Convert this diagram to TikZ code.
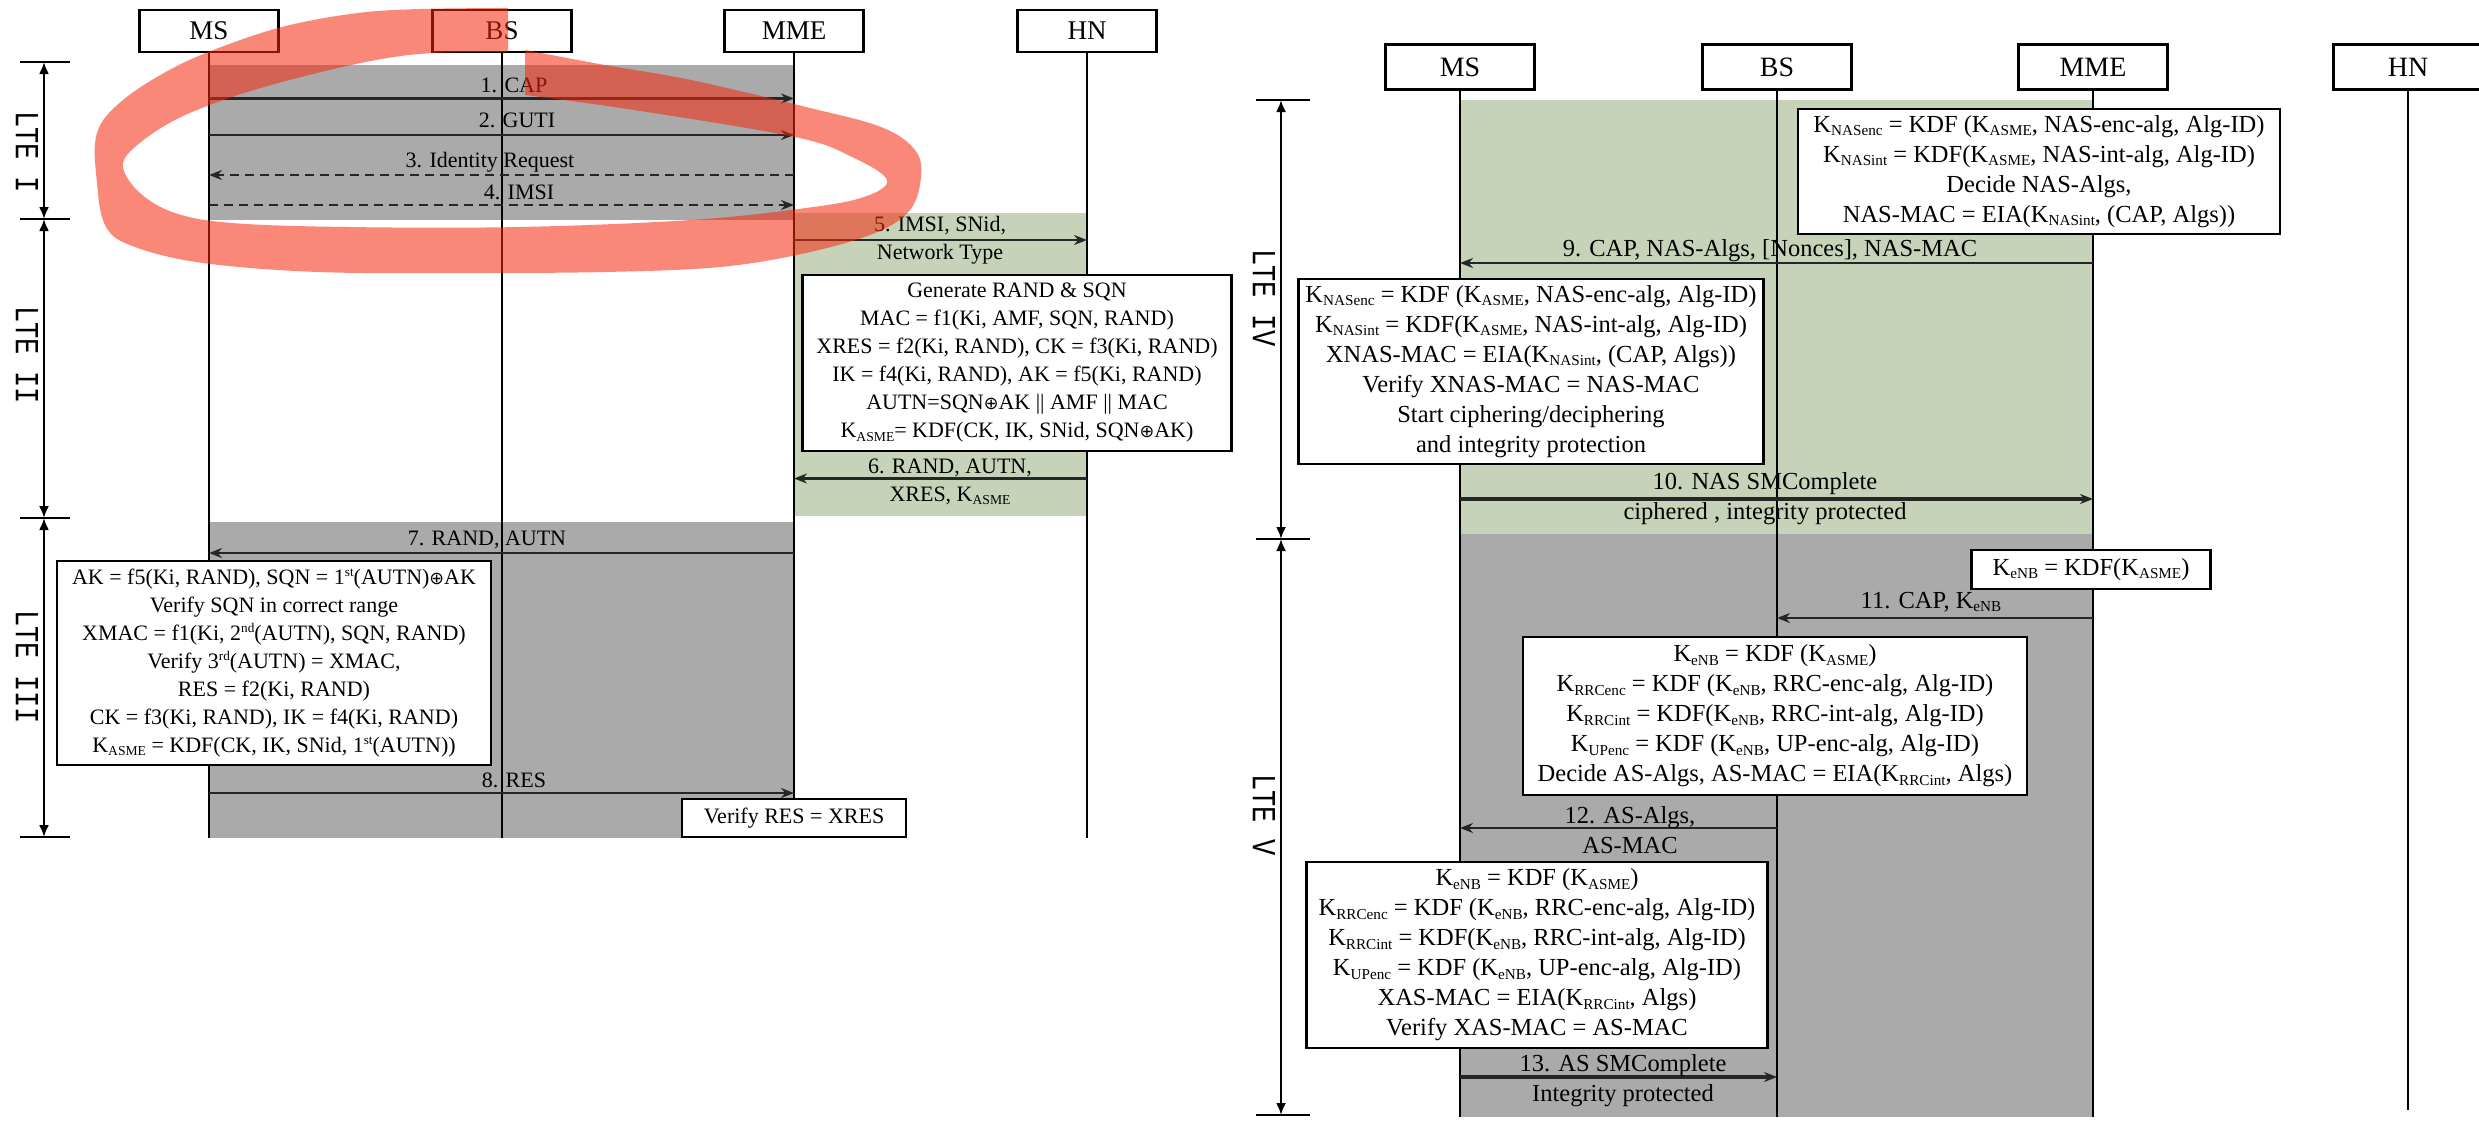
\documentclass[tikz,border=0pt]{standalone}
\usepackage{fontspec}
\setmainfont{Liberation Serif}
\newfontfamily\ltefont{Liberation Mono}
\newfontfamily\symf{DejaVu Sans}
\usetikzlibrary{arrows.meta}
\definecolor{grayreg}{HTML}{AAAAAA}
\definecolor{greenreg}{HTML}{C6D3B9}
\definecolor{redmark}{RGB}{245,40,12}
\newcommand\sbs[1]{\raisebox{-0.3ex}{\scalebox{0.62}{#1}}}
\newcommand\sps[1]{\raisebox{0.85ex}{\scalebox{0.6}{#1}}}
\newcommand\xor{{\symf\scalebox{0.8}{⊕}}}
\tikzset{
  part/.style={draw, line width=2.5pt, fill=white, minimum width=139pt, minimum height=42pt, inner sep=0pt, font=\fontsize{27}{27}\selectfont},
  partR/.style={part, minimum width=149pt, minimum height=45pt, font=\fontsize{28}{28}\selectfont},
  life/.style={line width=1.8pt},
  msg/.style={line width=2.6pt, draw=black!85, -{Stealth[length=13pt,width=10pt]}},
  dmsg/.style={msg, dash pattern=on 9pt off 6pt},
  lbl/.style={font=\fontsize{22}{28}\selectfont, inner sep=0pt, align=center},
  lblR/.style={font=\fontsize{24.5}{30}\selectfont, inner sep=0pt, align=center},
  bx/.style={draw, line width=2.5pt, fill=white, inner sep=0pt, align=center, font=\fontsize{22}{28}\selectfont},
  bxR/.style={bx, font=\fontsize{24.5}{30}\selectfont},
  lte/.style={font=\ltefont\fontsize{27}{27}\selectfont, rotate=-90, yscale=1.25, inner sep=0pt},
  brk/.style={line width=2.2pt, {Latex[length=12pt,width=10pt]}-{Latex[length=12pt,width=10pt]}},
  tck/.style={line width=2.8pt}
}
\begin{document}
\begin{tikzpicture}[x=1pt,y=-1pt]
\useasboundingbox (0,0) rectangle (2479,1120);
\fill[white] (0,0) rectangle (2479,1120);
% ---------- regions
\fill[grayreg] (209,65) rectangle (793,220);
\fill[greenreg] (793,213) rectangle (1087,516);
\fill[grayreg] (209,522) rectangle (793,838);
\fill[greenreg] (1460,100) rectangle (2092,534);
\fill[grayreg] (1460,534) rectangle (2092,1117);
% ---------- participants left
\node[part] (msA) at (209,31) {MS};
\node[part] (bsA) at (502,31) {BS};
\node[part] (mmeA) at (794,31) {MME};
\node[part] (hnA) at (1087,31) {HN};
\foreach \p in {msA,bsA,mmeA,hnA} \draw[life] (\p.south) -- (\p |- 0,838);
% ---------- participants right
\node[partR] (msB) at (1460,67) {MS};
\node[partR] (bsB) at (1777,67) {BS};
\node[partR] (mmeB) at (2093,67) {MME};
\node[partR] (hnB) at (2408,67) {HN};
\foreach \p in {msB,bsB,mmeB} \draw[life] (\p.south) -- (\p |- 0,1117);
\draw[life] (hnB.south) -- (hnB |- 0,1110);
% ---------- LTE brackets left
\coordinate (t0) at (44,62); \coordinate (t1) at (44,219);
\coordinate (t2) at (44,518); \coordinate (t3) at (44,837);
\foreach \t in {t0,t1,t2,t3} \draw[tck] ([xshift=-24pt]\t) -- ([xshift=26pt]\t);
\draw[brk] (t0) -- (t1);
\draw[brk] (t1) -- (t2);
\draw[brk] (t2) -- (t3);
\node[lte] (lteI) at (27,152) {LTE I};
\node[lte] (lteII) at (27,355) {LTE II};
\node[lte] (lteIII) at (27,667) {LTE III};
% ---------- LTE brackets right
\coordinate (u0) at (1281,100); \coordinate (u1) at (1281,539); \coordinate (u2) at (1281,1115);
\foreach \t in {u0,u1,u2} \draw[tck] ([xshift=-25pt]\t) -- ([xshift=29pt]\t);
\draw[brk] (u0) -- (u1);
\draw[brk] (u1) -- (u2);
\node[lte] (lteIV) at (1264,298) {LTE IV};
\node[lte] (lteV) at (1264,815) {LTE V};
% ---------- left messages
\draw[msg] (msA |- 0,98.5) -- (mmeA |- 0,98.5);
\node[lbl] (l1) at (514,85) {1. CAP};
\draw[msg] (msA |- 0,135) -- (mmeA |- 0,135);
\node[lbl] (l2) at (517,120) {2. GUTI};
\draw[dmsg] (mmeA |- 0,175) -- (msA |- 0,175);
\node[lbl] (l3) at (490,162) {3. Identity Request};
\draw[dmsg] (msA |- 0,205) -- (mmeA |- 0,205);
\node[lbl] (l4) at (519,192) {4. IMSI};
\draw[msg] (mmeA |- 0,240) -- (hnA |- 0,240);
\node[lbl] (l5) at (940,240) {5. IMSI, SNid,\\Network Type};
\node[bx, minimum width=429pt, minimum height=176pt] (genbox) at (1017,363)
 {Generate RAND \& SQN\\MAC = f1(Ki, AMF, SQN, RAND)\\XRES = f2(Ki, RAND), CK = f3(Ki, RAND)\\IK = f4(Ki, RAND), AK = f5(Ki, RAND)\\AUTN=SQN\xor AK || AMF || MAC\\K\sbs{ASME}= KDF(CK, IK, SNid, SQN\xor AK)};
\draw[msg] (hnA |- 0,478.5) -- (mmeA |- 0,478.5);
\node[lbl] (l6) at (950,482) {6. RAND, AUTN,\\XRES, K\sbs{ASME}};
\draw[msg] (mmeA |- 0,553) -- (msA |- 0,553);
\node[lbl] (l7) at (487,540) {7. RAND, AUTN};
\node[bx, minimum width=434pt, minimum height=204pt] (msbox) at (274,663)
 {AK = f5(Ki, RAND), SQN = 1\sps{st}(AUTN)\xor AK\\Verify SQN in correct range\\XMAC = f1(Ki, 2\sps{nd}(AUTN), SQN, RAND)\\Verify 3\sps{rd}(AUTN) = XMAC,\\RES = f2(Ki, RAND)\\CK = f3(Ki, RAND), IK = f4(Ki, RAND)\\K\sbs{ASME} = KDF(CK, IK, SNid, 1\sps{st}(AUTN))};
\draw[msg] (msA |- 0,793) -- (mmeA |- 0,793);
\node[lbl] (l8) at (514,780) {8. RES};
\node[bx, minimum width=224pt, minimum height=38pt] (vres) at (794,818) {Verify RES = XRES};
% ---------- right messages
\node[bxR, minimum width=482pt, minimum height=125pt] (mmebox1) at (2039,171.5)
 {K\sbs{NASenc} = KDF (K\sbs{ASME}, NAS-enc-alg, Alg-ID)\\K\sbs{NASint} = KDF(K\sbs{ASME}, NAS-int-alg, Alg-ID)\\Decide NAS-Algs,\\NAS-MAC = EIA(K\sbs{NASint}, (CAP, Algs))};
\draw[msg] (mmeB |- 0,263) -- (msB |- 0,263);
\node[lblR] (l9) at (1770,251) {9. CAP, NAS-Algs, [Nonces], NAS-MAC};
\node[bxR, minimum width=465pt, minimum height=185pt] (msbox1) at (1531,371.5)
 {K\sbs{NASenc} = KDF (K\sbs{ASME}, NAS-enc-alg, Alg-ID)\\K\sbs{NASint} = KDF(K\sbs{ASME}, NAS-int-alg, Alg-ID)\\XNAS-MAC = EIA(K\sbs{NASint}, (CAP, Algs))\\Verify XNAS-MAC = NAS-MAC\\Start ciphering/deciphering\\and integrity protection};
\draw[msg, line width=3.2pt] (msB |- 0,499) -- (mmeB |- 0,499);
\node[lblR] (l10) at (1765,499) {10. NAS SMComplete\\ciphered , integrity protected};
\node[bxR, minimum width=239pt, minimum height=39pt] (kenb) at (2091,569.5) {K\sbs{eNB} = KDF(K\sbs{ASME})};
\draw[msg] (mmeB |- 0,618) -- (bsB |- 0,618);
\node[lblR] (l11) at (1931,602) {11. CAP, K\sbs{eNB}};
\node[bxR, minimum width=504pt, minimum height=158pt] (bsbox) at (1775,716)
 {K\sbs{eNB} = KDF (K\sbs{ASME})\\K\sbs{RRCenc} = KDF (K\sbs{eNB}, RRC-enc-alg, Alg-ID)\\K\sbs{RRCint} = KDF(K\sbs{eNB}, RRC-int-alg, Alg-ID)\\K\sbs{UPenc} = KDF (K\sbs{eNB}, UP-enc-alg, Alg-ID)\\Decide AS-Algs, AS-MAC = EIA(K\sbs{RRCint}, Algs)};
\draw[msg] (bsB |- 0,828) -- (msB |- 0,828);
\node[lblR] (l12) at (1630,830) {12. AS-Algs,\\AS-MAC};
\node[bxR, minimum width=461pt, minimum height=186pt] (msbox2) at (1537,955)
 {K\sbs{eNB} = KDF (K\sbs{ASME})\\K\sbs{RRCenc} = KDF (K\sbs{eNB}, RRC-enc-alg, Alg-ID)\\K\sbs{RRCint} = KDF(K\sbs{eNB}, RRC-int-alg, Alg-ID)\\K\sbs{UPenc} = KDF (K\sbs{eNB}, UP-enc-alg, Alg-ID)\\XAS-MAC = EIA(K\sbs{RRCint}, Algs)\\Verify XAS-MAC = AS-MAC};
\draw[msg, line width=3.2pt] (msB |- 0,1077) -- (bsB |- 0,1077);
\node[lblR] (l13) at (1623,1081) {13. AS SMComplete\\Integrity protected};
% ---------- red hand-drawn mark
\fill[redmark, opacity=0.55]
  plot[smooth, tension=0.6] coordinates {(508,8) (420,9) (358,13) (290,25) (232,43) (175,67) (123,100) (97,133) (97,183) (106,227) (135,247) (203,263) (318,272) (462,273) (605,272) (720,267) (806,253) (875,233) (910,210) (921,177) (915,150) (881,127) (806,107) (691,80) (605,65) (525,50)}
  -- plot[smooth, tension=0.6] coordinates {(525,95) (634,110) (795,137) (852,157) (887,180) (864,197) (806,208) (691,220) (519,227) (347,227) (232,223) (175,213) (140,193) (123,167) (135,147) (175,120) (232,97) (301,77) (376,60) (433,53) (508,52)}
  -- cycle;
\end{tikzpicture}
\end{document}
